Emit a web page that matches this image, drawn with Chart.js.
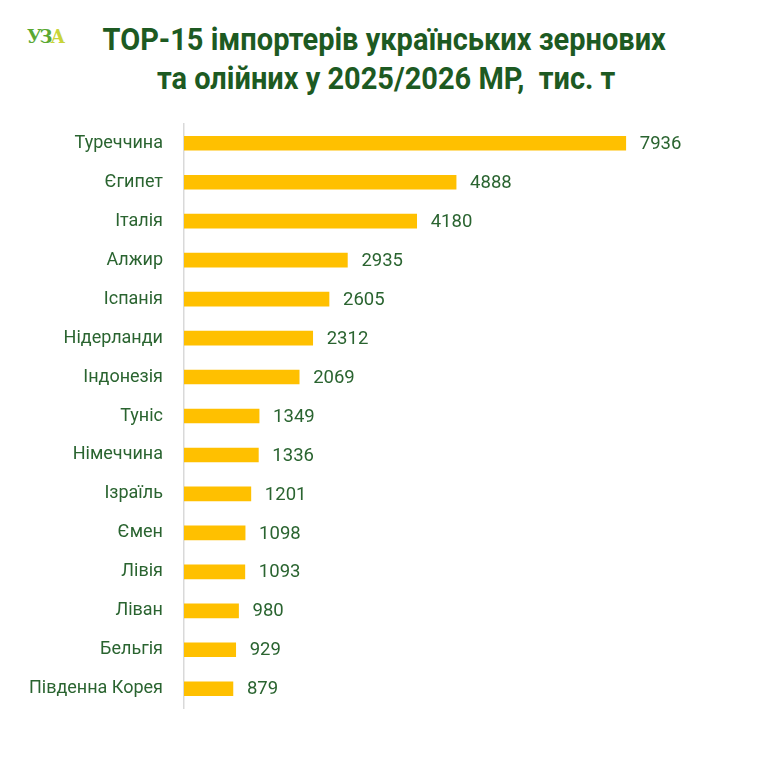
<!DOCTYPE html>
<html>
<head>
<meta charset="utf-8">
<script src="https://cdn.jsdelivr.net/npm/chart.js@4"></script>
<style>
  html, body { margin: 0; padding: 0; background: #fff; }
  #wrap { position: relative; width: 768px; height: 764px; overflow: hidden; }
  #logo { position: absolute; left: 27px; top: 26px; font-family: "DejaVu Serif", serif; font-size: 18px; font-weight: bold; letter-spacing: -2px; color: #5aa832; }
  #logo span { color: #c8d43a; }
  #title { position: absolute; left: 0; width: 768px; top: 20px; text-align: center; font-family: Roboto, "Noto Sans", sans-serif; font-weight: bold; font-size: 31px; line-height: 39px; color: #1d5a22; }
  #title div { display: inline-block; transform: scaleX(0.935); transform-origin: center; white-space: nowrap; }
  #chart-box { position: absolute; left: 0; top: 92px; width: 768px; height: 648px; }
</style>
</head>
<body>
<div id="wrap">
  <div id="logo">УЗ<span>А</span></div>
  <div id="title"><div>ТОР-15 імпортерів українських зернових</div><br><div style="margin-left:4px">та олійних у 2025/2026 МР,&nbsp; тис. т</div></div>
  <div id="chart-box"><canvas id="chart-top15"></canvas></div>
</div>
<script>
// Countries and import volumes, thousand tonnes
const countries = ['Туреччина', 'Єгипет', 'Італія', 'Алжир', 'Іспанія', 'Нідерланди', 'Індонезія',
  'Туніс', 'Німеччина', 'Ізраїль', 'Ємен', 'Лівія', 'Ліван', 'Бельгія', 'Південна Корея'];
const volumes = [7936, 4888, 4180, 2935, 2605, 2312, 2069, 1349, 1336, 1201, 1098, 1093, 980, 929, 879];

const TEXT_GREEN = '#2a6430';

// draws the value right after each bar
const valueLabels = {
  id: 'valueLabels',
  afterDatasetsDraw(chart) {
    const ctx = chart.ctx;
    const meta = chart.getDatasetMeta(0);
    ctx.save();
    ctx.font = '18.5px Roboto, "Noto Sans", sans-serif';
    ctx.fillStyle = TEXT_GREEN;
    ctx.textBaseline = 'middle';
    meta.data.forEach((bar, i) => {
      ctx.fillText(String(volumes[i]), bar.x + 14, bar.y + 1);
    });
    ctx.restore();
  }
};

const canvas = document.getElementById('chart-top15');
new Chart(canvas.getContext('2d'), {
  type: 'bar',
  data: {
    labels: countries,
    datasets: [{
      data: volumes,
      backgroundColor: '#ffc000',
      barThickness: 14,
      borderWidth: 0
    }]
  },
  options: {
    indexAxis: 'y',
    responsive: true,
    maintainAspectRatio: false,
    animation: false,
    layout: { padding: { left: 0, right: 83, top: 12, bottom: 19 } },
    plugins: {
      legend: { display: false },
      tooltip: { enabled: false }
    },
    scales: {
      x: {
        min: 0,
        max: 9000,
        display: false
      },
      y: {
        afterFit(scale) { scale.width = 184; },
        grid: { display: false, drawTicks: false },
        border: { display: true, color: '#d9d9d9', width: 1.5 },
        ticks: {
          padding: 21,
          color: TEXT_GREEN,
          font: { family: 'Roboto, "Noto Sans", sans-serif', size: 18 }
        }
      }
    }
  },
  plugins: [valueLabels]
});
</script>
</body>
</html>
